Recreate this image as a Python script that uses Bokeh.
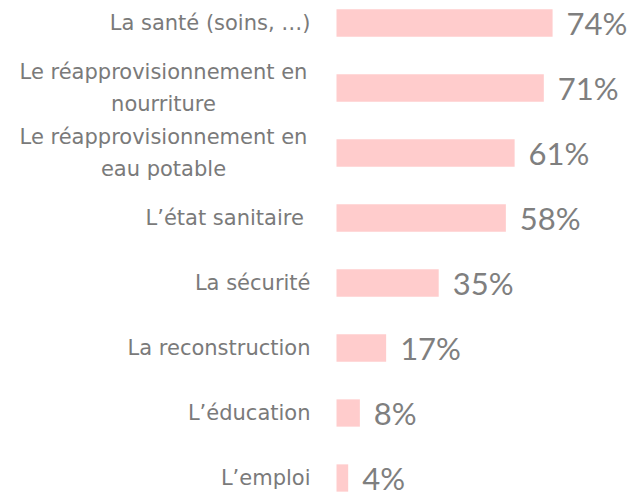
from bokeh.plotting import figure
from bokeh.models import Range1d, ColumnDataSource
from bokeh.core.properties import value
from bokeh.embed import file_html
from bokeh.resources import INLINE

categories = [
    "La santé (soins, …)",
    "Le réapprovisionnement en\nnourriture",
    "Le réapprovisionnement en\neau potable",
    "L’état sanitaire ",
    "La sécurité",
    "La reconstruction",
    "L’éducation",
    "L’emploi",
]
values = [74, 71, 61, 58, 35, 17, 8, 4]
value_labels = ["74%", "71%", "61%", "58%", "35%", "17%", "8%", "4%"]

W, H = 627, 496
PX_PER_UNIT = 2.92          # pixels per percentage point
BAR_X0 = 336                # pixel x where 0% sits
ROW_PX = 65.0               # pixel distance between rows
ROW0_PX = 22.5              # pixel y of first row center

x_start = -BAR_X0 / PX_PER_UNIT
x_end = (W - BAR_X0) / PX_PER_UNIT
y_top = -ROW0_PX / ROW_PX
y_bottom = (H - ROW0_PX) / ROW_PX

p = figure(width=W, height=H, output_backend="svg", toolbar_location=None,
           x_range=Range1d(x_start, x_end), y_range=Range1d(y_bottom, y_top),
           min_border=0, min_border_left=0, min_border_right=0,
           min_border_top=0, min_border_bottom=0)
p.axis.visible = False
p.grid.visible = False
p.outline_line_color = None
p.background_fill_color = "white"
p.border_fill_color = "white"

ys = list(range(len(categories)))

src = ColumnDataSource(dict(y=ys, v=values, lab=value_labels,
                            vx=[v + 14 / PX_PER_UNIT for v in values]))
p.hbar(y="y", left=0, right="v", height=0.42, source=src,
       fill_color="#FFCCCC", line_color=None)
p.text(x="vx", y="y", text="lab", source=src, text_font=value("Lato"),
       text_font_size="31px", text_color="#7F7F7F", text_align="left",
       text_baseline="middle")

LABEL_FONT = value("DejaVu Sans")
LABEL_COLOR = "#7A7A7A"

lab_right = -26 / PX_PER_UNIT
s_y = [i for i, c in enumerate(categories) if "\n" not in c]
s_t = [c for c in categories if "\n" not in c]
p.text(x=[lab_right] * len(s_y), y=s_y, text=s_t, text_font=LABEL_FONT,
       text_font_size="21px", text_color=LABEL_COLOR, text_align="right",
       text_baseline="middle")

m_y = [i for i, c in enumerate(categories) if "\n" in c]
m_t = [c for c in categories if "\n" in c]
lab_center = -(BAR_X0 - 163) / PX_PER_UNIT
p.text(x=[lab_center] * len(m_y), y=m_y, text=m_t, text_font=LABEL_FONT,
       text_font_size="21px", text_color=LABEL_COLOR, text_align="center",
       text_baseline="middle", text_line_height=1.3)

open("out.html", "w").write(file_html(p, INLINE))
